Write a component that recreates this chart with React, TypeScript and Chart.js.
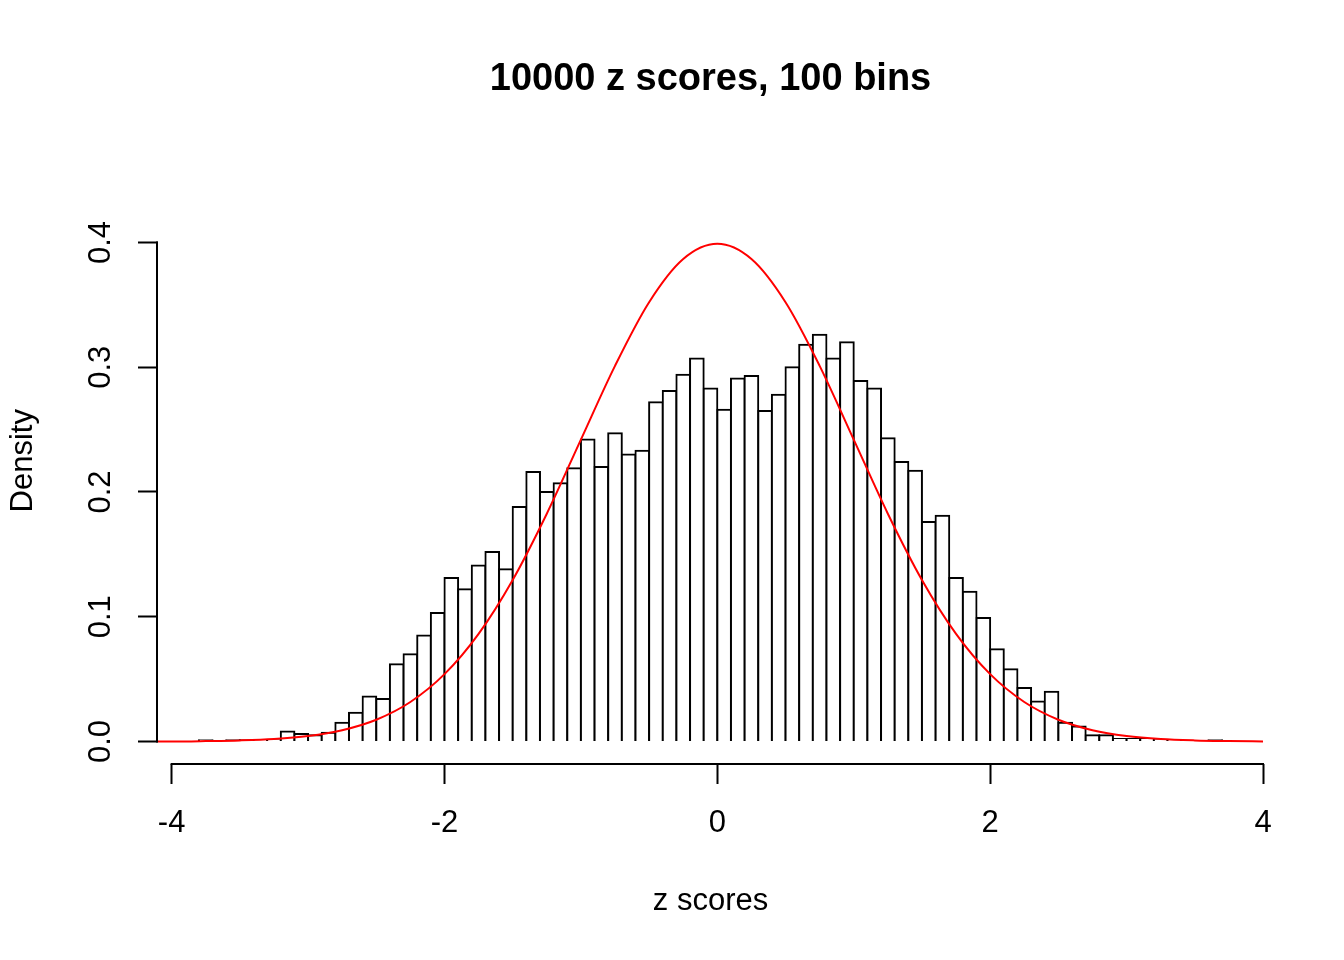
import React, { useEffect, useRef } from "react";
import { Chart, registerables } from "chart.js";

Chart.register(...registerables);

// Histogram bins (width 0.1): bin centers and density values
const binCenters = [
  -3.75, -3.65, -3.55, -3.45, -3.35, -3.25, -3.15, -3.05, -2.95, -2.85,
  -2.75, -2.65, -2.55, -2.45, -2.35, -2.25, -2.15, -2.05, -1.95, -1.85,
  -1.75, -1.65, -1.55, -1.45, -1.35, -1.25, -1.15, -1.05, -0.95, -0.85,
  -0.75, -0.65, -0.55, -0.45, -0.35, -0.25, -0.15, -0.05, 0.05, 0.15,
  0.25, 0.35, 0.45, 0.55, 0.65, 0.75, 0.85, 0.95, 1.05, 1.15,
  1.25, 1.35, 1.45, 1.55, 1.65, 1.75, 1.85, 1.95, 2.05, 2.15,
  2.25, 2.35, 2.45, 2.55, 2.65, 2.75, 2.85, 2.95, 3.05, 3.15,
  3.25, 3.35, 3.45, 3.55, 3.65,
];

const densities = [
  0.001, 0.0, 0.001, 0.001, 0.001, 0.001, 0.008, 0.006, 0.005, 0.007,
  0.015, 0.023, 0.036, 0.034, 0.062, 0.07, 0.085, 0.103, 0.131, 0.122,
  0.141, 0.152, 0.138, 0.188, 0.216, 0.2, 0.207, 0.219, 0.242, 0.22,
  0.247, 0.23, 0.233, 0.272, 0.281, 0.294, 0.307, 0.283, 0.266, 0.291,
  0.293, 0.265, 0.278, 0.3, 0.318, 0.326, 0.307, 0.32, 0.289, 0.283,
  0.243, 0.224, 0.217, 0.176, 0.181, 0.131, 0.12, 0.099, 0.074, 0.058,
  0.043, 0.032, 0.04, 0.015, 0.012, 0.005, 0.005, 0.002, 0.002, 0.002,
  0.001, 0.001, 0.0, 0.0, 0.001,
];

// Red density curve
const curveX = [
  -4.1, -4.0, -3.75, -3.5, -3.25, -3.0, -2.75, -2.5, -2.25, -2.0, -1.75,
  -1.5, -1.25, -1.0, -0.75, -0.5, -0.25, 0.0, 0.25, 0.5, 0.75, 1.0, 1.25,
  1.5, 1.75, 2.0, 2.25, 2.5, 2.75, 3.0, 3.25, 3.5, 3.75, 4.0,
];
const curveY = [
  0.0001, 0.0001, 0.0004, 0.0009, 0.002, 0.0044, 0.0091, 0.0175, 0.0317,
  0.054, 0.0863, 0.1295, 0.1826, 0.242, 0.3011, 0.3521, 0.3867, 0.3989,
  0.3867, 0.3521, 0.3011, 0.242, 0.1826, 0.1295, 0.0863, 0.054, 0.0317,
  0.0175, 0.0091, 0.0044, 0.002, 0.0009, 0.0004, 0.0001,
];

const xTicks = [-4, -2, 0, 2, 4];
const xTickLabels = ["-4", "-2", "0", "2", "4"];
const yTicks = [0, 0.1, 0.2, 0.3, 0.4];
const yTickLabels = ["0.0", "0.1", "0.2", "0.3", "0.4"];

const titleText = "10000 z scores, 100 bins";
const xTitleText = "z scores";
const yTitleText = "Density";

const FONT = "'Liberation Sans', Arial, Helvetica, sans-serif";

const axisLinesPlugin = {
  id: "rAxisLines",
  afterDraw(chart: any) {
    const { ctx, chartArea, scales } = chart;
    const xs = scales.x;
    const ys = scales.y;
    ctx.save();
    ctx.strokeStyle = "#000";
    ctx.lineWidth = 2;
    ctx.lineCap = "square";
    ctx.beginPath();
    const yb = chartArea.bottom;
    ctx.moveTo(xs.getPixelForValue(xTicks[0]), yb);
    ctx.lineTo(xs.getPixelForValue(xTicks[xTicks.length - 1]), yb);
    const xl = chartArea.left - 1;
    ctx.moveTo(xl, ys.getPixelForValue(yTicks[0]));
    ctx.lineTo(xl, ys.getPixelForValue(yTicks[yTicks.length - 1]));
    ctx.stroke();
    ctx.restore();
  },
};

export default function App() {
  const canvasRef = useRef<HTMLCanvasElement | null>(null);

  useEffect(() => {
    const canvas = canvasRef.current;
    if (!canvas) return;
    const chart = new Chart(canvas, {
      type: "bar",
      data: {
        datasets: [
          {
            type: "line",
            data: curveX.map((x, i) => ({ x, y: curveY[i] })),
            borderColor: "#ff0000",
            borderWidth: 2,
            pointRadius: 0,
            cubicInterpolationMode: "monotone",
            fill: false,
            order: 1,
          } as any,
          {
            type: "bar",
            data: binCenters.map((x, i) => ({ x, y: densities[i] })),
            backgroundColor: "#ffffff",
            borderColor: "#000000",
            borderWidth: 2,
            borderSkipped: "start",
            inflateAmount: 1,
            barPercentage: 1,
            categoryPercentage: 1,
            order: 2,
          } as any,
        ],
      },
      options: {
        responsive: false,
        maintainAspectRatio: false,
        animation: false,
        events: [],
        layout: { padding: { left: 0, right: 81, top: 0, bottom: 0 } },
        plugins: {
          legend: { display: false },
          tooltip: { enabled: false },
          title: {
            display: true,
            text: titleText,
            color: "#000",
            fullSize: false,
            font: { family: FONT, size: 38, weight: "bold" },
            padding: { top: 57, bottom: 55 },
          },
        },
        scales: {
          x: {
            type: "linear",
            min: -4.1,
            max: 4.0,
            offset: false,
            afterBuildTicks: (scale: any) => {
              scale.ticks = xTicks.map((v) => ({ value: v }));
            },
            afterFit: (scale: any) => {
              scale.height = 196;
            },
            grid: {
              display: true,
              offset: false,
              drawOnChartArea: false,
              drawTicks: true,
              tickLength: 20,
              tickWidth: 2,
              tickColor: "#000",
            },
            border: { display: false },
            ticks: {
              autoSkip: false,
              maxRotation: 0,
              minRotation: 0,
              padding: 21,
              color: "#000",
              font: { family: FONT, size: 31 },
              callback: (v: any) => {
                const i = xTicks.indexOf(Number(v));
                return i >= 0 ? xTickLabels[i] : "";
              },
            },
            title: {
              display: true,
              text: xTitleText,
              color: "#000",
              font: { family: FONT, size: 31 },
              padding: { top: 0, bottom: 40 },
            },
          },
          y: {
            type: "linear",
            min: -0.018,
            max: 0.468,
            afterBuildTicks: (scale: any) => {
              scale.ticks = yTicks.map((v) => ({ value: v }));
            },
            afterFit: (scale: any) => {
              scale.width = 158;
            },
            grid: {
              display: true,
              drawOnChartArea: false,
              drawTicks: true,
              tickLength: 20,
              tickWidth: 2,
              tickColor: "#000",
            },
            border: { display: false },
            ticks: {
              autoSkip: false,
              minRotation: 90,
              maxRotation: 90,
              crossAlign: "center",
              padding: 15,
              color: "#000",
              font: { family: FONT, size: 31 },
              callback: (v: any) => {
                const i = yTicks.findIndex((t) => Math.abs(t - Number(v)) < 1e-9);
                return i >= 0 ? yTickLabels[i] : "";
              },
            },
            title: {
              display: true,
              text: yTitleText,
              color: "#000",
              font: { family: FONT, size: 31 },
              padding: { top: 5, bottom: 0 },
            },
          },
        },
      } as any,
      plugins: [axisLinesPlugin],
    });
    return () => {
      chart.destroy();
    };
  }, []);

  return (
    <div style={{ position: "absolute", left: 0, top: 0, width: 1344, height: 960, background: "#fff" }}>
      <canvas ref={canvasRef} width={1344} height={960} style={{ display: "block", width: 1344, height: 960 }} />
    </div>
  );
}
